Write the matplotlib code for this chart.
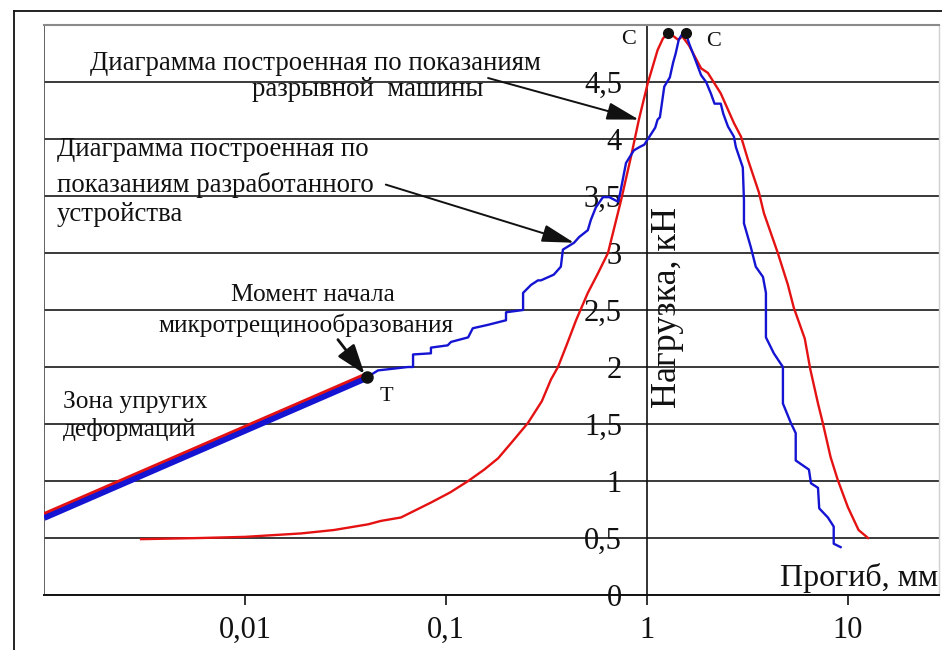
import numpy as np
import matplotlib
matplotlib.use('Agg')
import matplotlib.pyplot as plt
from matplotlib.lines import Line2D

plt.rcParams['font.family'] = ['Liberation Serif', 'DejaVu Serif']

# Elastic zone (shared by both diagrams), deflection in mm, load in kN
elastic_x = [0.001, 0.0405]
elastic_y = [0.68, 1.91]

# Diagram from the testing machine
red_x = [0.00304, 0.00604, 0.01, 0.019, 0.0277, 0.041, 0.0475, 0.0597, 0.084, 0.105,
         0.129, 0.155, 0.182, 0.215, 0.256, 0.30, 0.333, 0.361, 0.40, 0.444,
         0.508, 0.57, 0.64, 0.743, 0.832, 0.912, 1.01, 1.13, 1.20, 1.27,
         1.36, 1.43, 1.50, 1.62, 1.86, 2.01, 2.33, 2.71, 2.94, 3.18,
         3.61, 3.82, 4.48, 5.03, 5.38, 6.1, 6.5, 7.1, 7.5, 8.2,
         8.9, 10.0, 11.3, 12.6]
red_y = [0.49, 0.50, 0.51, 0.54, 0.57, 0.62, 0.65, 0.68, 0.81, 0.90,
         1.0, 1.10, 1.20, 1.35, 1.51, 1.70, 1.89, 2.0, 2.20, 2.41,
         2.65, 2.82, 3.0, 3.46, 3.84, 4.17, 4.49, 4.78, 4.88, 4.93,
         4.90, 4.87, 4.90, 4.82, 4.62, 4.58, 4.40, 4.14, 4.02, 3.82,
         3.53, 3.35, 3.0, 2.72, 2.52, 2.25, 1.98, 1.68, 1.51, 1.21,
         1.01, 0.77, 0.57, 0.50]

# Diagram from the developed device
blue_x = [0.0405, 0.0459, 0.0647, 0.0686, 0.0686, 0.0842, 0.0842, 0.102, 0.106, 0.129,
          0.136, 0.162, 0.199, 0.199, 0.242, 0.242, 0.265, 0.287, 0.297, 0.344,
          0.373, 0.382, 0.434, 0.46, 0.508, 0.526, 0.557, 0.604, 0.65, 0.718,
          0.735, 0.787, 0.861, 0.92, 0.97, 1.02, 1.10, 1.13, 1.16, 1.18,
          1.22, 1.30, 1.35, 1.39, 1.44, 1.51, 1.56, 1.62, 1.72, 1.86,
          1.97, 2.08, 2.17, 2.33, 2.40, 2.53, 2.71, 2.77, 3.0, 3.04,
          3.04, 3.29, 3.48, 3.78, 3.91, 3.91, 4.28, 4.75, 4.75, 5.2,
          5.5, 5.5, 6.4, 6.55, 7.1, 7.2, 7.95, 8.5, 8.5, 9.2]
blue_y = [1.91, 1.97, 2.0, 2.0, 2.11, 2.12, 2.17, 2.19, 2.22, 2.26,
          2.34, 2.37, 2.41, 2.48, 2.50, 2.65, 2.72, 2.76, 2.76, 2.81,
          2.88, 3.03, 3.09, 3.14, 3.20, 3.29, 3.40, 3.49, 3.49, 3.45,
          3.52, 3.79, 3.90, 3.93, 3.95, 4.01, 4.10, 4.17, 4.19, 4.28,
          4.46, 4.54, 4.67, 4.75, 4.87, 4.93, 4.93, 4.84, 4.72, 4.56,
          4.50, 4.40, 4.31, 4.31, 4.22, 4.11, 4.02, 3.93, 3.75, 3.46,
          3.26, 3.05, 2.88, 2.79, 2.65, 2.26, 2.12, 2.0, 1.68, 1.51,
          1.42, 1.18, 1.10, 0.98, 0.94, 0.76, 0.68, 0.60, 0.45, 0.42]

x_ticks = [0.01, 0.1, 1, 10]
x_tick_labels = ['0,01', '0,1', '1', '10']
y_ticks = [0, 0.5, 1, 1.5, 2, 2.5, 3, 3.5, 4, 4.5]
y_tick_labels = ['0', '0,5', '1', '1,5', '2', '2,5', '3', '3,5', '4', '4,5']

RED = '#e41212'
BLUE = '#1414d2'
INK = '#111111'

fig = plt.figure(figsize=(9.42, 6.5), dpi=100)
ax = fig.add_axes([44 / 942, 55 / 650, 895 / 942, 570 / 650])

# Outer frame around the drawing
fig.add_artist(Line2D([14 / 942, 14 / 942], [0, 1 - 11 / 650], transform=fig.transFigure,
                      color=INK, lw=1.3))
fig.add_artist(Line2D([14 / 942, 1], [1 - 11 / 650, 1 - 11 / 650], transform=fig.transFigure,
                      color=INK, lw=1.3))

ax.set_xscale('log')
ax.set_xlim(0.001, 28.4)
ax.set_ylim(0, 5)

# Load axis crosses the deflection axis at 1 mm
ax.spines['left'].set_position(('data', 1.0))
ax.spines['left'].set_color(INK)
ax.spines['left'].set_linewidth(1.2)
ax.spines['bottom'].set_color(INK)
ax.spines['bottom'].set_linewidth(1.4)
ax.spines['top'].set_color('#8a8a8a')
ax.spines['top'].set_linewidth(1.5)
ax.spines['right'].set_color('#d0d0d0')
ax.spines['right'].set_linewidth(1.0)
ax.add_line(Line2D([0, 0], [0, 1], transform=ax.transAxes, color='#555555', lw=1.3))

ax.set_xticks(x_ticks)
ax.set_xticklabels(x_tick_labels)
ax.xaxis.set_minor_locator(matplotlib.ticker.NullLocator())
ax.tick_params(axis='x', length=7, width=1.2, color=INK, pad=8, labelsize=22, labelcolor=INK)

ax.set_yticks(y_ticks)
ax.set_yticklabels(y_tick_labels)
ax.tick_params(axis='y', length=0, pad=18, labelsize=22, labelcolor=INK)

ax.set_axisbelow(True)
ax.yaxis.grid(True, color='#2a2a2a', lw=1.3)
ax.xaxis.grid(False)

# Elastic zone: thick blue line with the machine trace along its upper edge
ax.plot(elastic_x, elastic_y, color=BLUE, lw=5, solid_capstyle='butt', zorder=3)
ax.plot(elastic_x, np.array(elastic_y) + 0.035, color=RED, lw=2, solid_capstyle='butt', zorder=4)

ax.plot(red_x, red_y, color=RED, lw=1.7, zorder=3)
ax.plot(blue_x, blue_y, color=BLUE, lw=1.7, zorder=3)

# Key points: T (start of micro-cracking) and C (peaks)
i_red = int(np.argmax(red_y))
i_blue = len(blue_y) - 1 - int(np.argmax(blue_y[::-1]))
ax.plot([red_x[i_red], blue_x[i_blue]], [red_y[i_red], blue_y[i_blue]], 'o',
        color=INK, ms=7, zorder=5, clip_on=False)
ax.plot([elastic_x[-1]], [elastic_y[-1]], 'o', color=INK, ms=8, zorder=5)

ax.annotate('T', xy=(elastic_x[-1], elastic_y[-1]), xytext=(14, -14), textcoords='offset points',
            fontsize=16, color=INK, ha='center', va='center')
ax.annotate('C', xy=(red_x[i_red], red_y[i_red]), xytext=(-28, -5), textcoords='offset points',
            fontsize=16, color=INK, ha='center', va='center')
ax.annotate('C', xy=(blue_x[i_blue], blue_y[i_blue]), xytext=(20, -6), textcoords='offset points',
            fontsize=16, color=INK, ha='center', va='center')

big = dict(transform=ax.transAxes, fontsize=19.3, color=INK, va='center')
small = dict(transform=ax.transAxes, fontsize=18.3, color=INK, va='center')
ax.text(0.0514, 0.932, 'Диаграмма построенная по показаниям', ha='left', **big)
ax.text(0.2324, 0.886, 'разрывной  машины', ha='left', **big)
ax.text(0.0145, 0.781, 'Диаграмма построенная по', ha='left', **big)
ax.text(0.0145, 0.719, 'показаниям разработанного', ha='left', **big)
ax.text(0.0145, 0.667, 'устройства', ha='left', **big)
ax.text(0.300, 0.526, 'Момент начала', ha='center', **small)
ax.text(0.293, 0.474, 'микротрещинообразования', ha='center', **small)
ax.text(0.0212, 0.339, 'Зона упругих', ha='left', **small)
ax.text(0.0212, 0.290, 'деформаций', ha='left', **small)

ax.text(0.9106, 0.030, 'Прогиб, мм', transform=ax.transAxes, fontsize=23, color=INK,
        ha='center', va='center')
ax.text(0.697, 0.505, 'Нагрузка, кН', transform=ax.transAxes, fontsize=26, color=INK,
        ha='center', va='center', rotation=90)

# Pointer arrows
arrow = dict(arrowstyle='-|>,head_length=1.1,head_width=0.3', color=INK, lw=1.4,
             mutation_scale=18, shrinkA=0, shrinkB=0)
ax.annotate('', xy=(red_x[25], red_y[25]), xytext=(0.162, 4.535), arrowprops=arrow)
ax.annotate('', xy=(blue_x[22], blue_y[22]), xytext=(0.0502, 3.6), arrowprops=arrow)
arrow_t = dict(arrowstyle='-|>,head_length=1.0,head_width=0.35', color=INK, lw=2.0,
               mutation_scale=18, shrinkA=0, shrinkB=3)
ax.annotate('', xy=(elastic_x[-1], elastic_y[-1]), xytext=(0.029, 2.24), arrowprops=arrow_t)

fig.savefig('out.png', dpi=100, facecolor='white')
